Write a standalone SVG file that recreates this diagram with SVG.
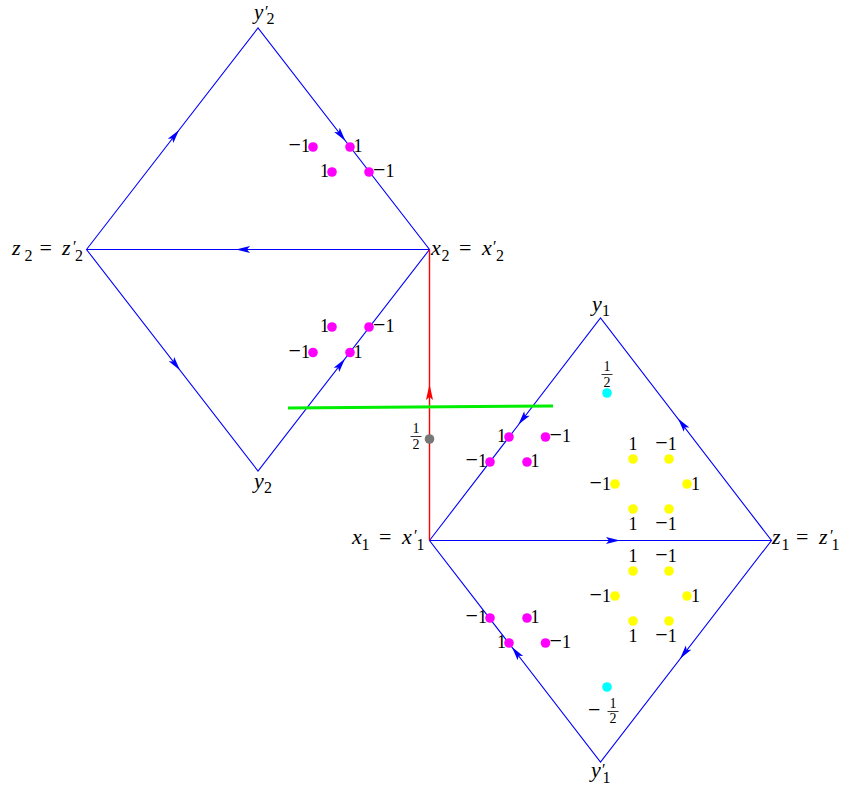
<svg xmlns="http://www.w3.org/2000/svg" width="849" height="792" viewBox="0 0 849 792">
<style>
.bg{fill:#fff}
.edge{fill:none;stroke:#0000ff;stroke-width:1.1}
.red{fill:none;stroke:#ff0000;stroke-width:1.4}
.cut{fill:none;stroke:#00ee00;stroke-width:3}
.ah{fill:#0000ff}
.rah{fill:#ff0000}
.m{font-family:"Liberation Serif",serif;font-size:22px;fill:#000}
.i{font-style:italic}
.s{font-size:16px;font-style:normal}
.p{font-size:16px;font-style:normal}
.n{font-family:"Liberation Serif",serif;font-size:18px;fill:#000}
.mn{font-size:22px}
.l{text-anchor:end}
.c{text-anchor:middle}
.f{font-family:"Liberation Serif",serif;font-size:14px;fill:#000;text-anchor:middle}
.bar{stroke:#000;stroke-width:0.8}
.mg{fill:#ff00ff}
.yl{fill:#ffff00}
.cy{fill:#00ffff}
.gr{fill:#777777}
</style>
<defs>
<path id="ahd" d="M0,0 L-14,-3.5 L-11,0 L-14,3.5 Z"/>
<path id="rahd" d="M0,0 L-16,-3.5 L-13,0 L-16,3.5 Z"/>
</defs>
<rect class="bg" x="0" y="0" width="849" height="792"/>

<g id="connectors">
  <path class="edge" d="M86.5,249.5 L258,28 L429.5,249.5 L258,471 Z M429.5,249.5 L86.5,249.5"/>
  <path class="edge" d="M429.5,540.5 L600.5,318 L771.5,540.5 L600.5,762 Z M429.5,540.5 L771.5,540.5"/>
  <path class="red" d="M429.5,249.5 L429.5,540.5"/>
  <g class="ah">
    <use href="#ahd" transform="translate(179.1,129.9) rotate(-52.25)"/>
    <use href="#ahd" transform="translate(345.5,141) rotate(52.25)"/>
    <use href="#ahd" transform="translate(236,249.5) rotate(180)"/>
    <use href="#ahd" transform="translate(180,370.2) rotate(52.25)"/>
    <use href="#ahd" transform="translate(345,358.7) rotate(-52.25)"/>
    <use href="#ahd" transform="translate(518.4,424.6) rotate(127.61)"/>
    <use href="#ahd" transform="translate(678,418.6) rotate(-127.61)"/>
    <use href="#ahd" transform="translate(620,540.5) rotate(0)"/>
    <use href="#ahd" transform="translate(680,658.8) rotate(127.61)"/>
    <use href="#ahd" transform="translate(511.9,647) rotate(-127.61)"/>
  </g>
  <use class="rah" href="#rahd" transform="translate(429.5,384) rotate(-90)"/>
</g>

<g id="cut-line">
  <path class="cut" d="M288,408 L553,406"/>
</g>

<g id="node-y2p"><text class="m" style="font-size:21px"><tspan class="i" x="254" y="19">y</tspan><tspan class="p" x="265" y="17">′</tspan><tspan class="s" x="266.5" y="24">2</tspan></text></g>
<g id="node-z2"><text class="m"><tspan class="i" x="12" y="255">z</tspan><tspan class="s" x="24.5" y="261">2</tspan><tspan x="39.5" y="255">=</tspan><tspan class="i" x="62" y="255">z</tspan><tspan class="p" x="73" y="252">′</tspan><tspan class="s" x="75" y="261">2</tspan></text></g>
<g id="node-x2"><text class="m"><tspan class="i" x="431" y="255">x</tspan><tspan class="s" x="441.5" y="261">2</tspan><tspan x="459" y="255">=</tspan><tspan class="i" x="482" y="255">x</tspan><tspan class="p" x="493" y="252">′</tspan><tspan class="s" x="496" y="261">2</tspan></text></g>
<g id="node-y2"><text class="m"><tspan class="i" x="254" y="488">y</tspan><tspan class="s" x="264" y="493">2</tspan></text></g>
<g id="node-y1"><text class="m"><tspan class="i" x="592" y="311">y</tspan><tspan class="s" x="602" y="316">1</tspan></text></g>
<g id="node-x1"><text class="m"><tspan class="i" x="352" y="544">x</tspan><tspan class="s" x="361.5" y="550">1</tspan><tspan x="379" y="544">=</tspan><tspan class="i" x="402" y="544">x</tspan><tspan class="p" x="414" y="541">′</tspan><tspan class="s" x="416.5" y="550">1</tspan></text></g>
<g id="node-z1"><text class="m"><tspan class="i" x="772" y="544">z</tspan><tspan class="s" x="781.5" y="550">1</tspan><tspan x="796" y="544">=</tspan><tspan class="i" x="819" y="544">z</tspan><tspan class="p" x="830" y="541">′</tspan><tspan class="s" x="831.5" y="550">1</tspan></text></g>
<g id="node-y1p"><text class="m"><tspan class="i" x="591" y="777">y</tspan><tspan class="p" x="602" y="775">′</tspan><tspan class="s" x="602.5" y="783">1</tspan></text></g>

<g id="dots-top">
  <circle class="mg" cx="313" cy="147" r="4.8"/><text class="n l" x="310" y="152"><tspan class="mn">−</tspan>1</text>
  <circle class="mg" cx="350" cy="147" r="4.8"/><text class="n" x="353.5" y="152">1</text>
  <circle class="mg" cx="332" cy="172" r="4.8"/><text class="n l" x="329" y="177">1</text>
  <circle class="mg" cx="369" cy="172" r="4.8"/><text class="n" x="373" y="177"><tspan class="mn">−</tspan>1</text>
  <circle class="mg" cx="332" cy="327" r="4.8"/><text class="n l" x="329" y="332">1</text>
  <circle class="mg" cx="369" cy="327" r="4.8"/><text class="n" x="373" y="332"><tspan class="mn">−</tspan>1</text>
  <circle class="mg" cx="313" cy="352.5" r="4.8"/><text class="n l" x="310" y="357.5"><tspan class="mn">−</tspan>1</text>
  <circle class="mg" cx="350" cy="352.5" r="4.8"/><text class="n" x="353.5" y="357.5">1</text>
</g>

<g id="dots-bottom-left">
  <circle class="mg" cx="509" cy="437" r="4.8"/><text class="n l" x="506" y="442">1</text>
  <circle class="mg" cx="545.5" cy="437" r="4.8"/><text class="n" x="549.5" y="442"><tspan class="mn">−</tspan>1</text>
  <circle class="mg" cx="490" cy="462" r="4.8"/><text class="n l" x="487" y="467"><tspan class="mn">−</tspan>1</text>
  <circle class="mg" cx="527" cy="462" r="4.8"/><text class="n" x="530.5" y="467">1</text>
  <circle class="mg" cx="490" cy="618" r="4.8"/><text class="n l" x="487" y="623"><tspan class="mn">−</tspan>1</text>
  <circle class="mg" cx="527" cy="618" r="4.8"/><text class="n" x="530.5" y="623">1</text>
  <circle class="mg" cx="509" cy="643" r="4.8"/><text class="n l" x="506" y="648">1</text>
  <circle class="mg" cx="545.5" cy="643" r="4.8"/><text class="n" x="549.5" y="648"><tspan class="mn">−</tspan>1</text>
</g>

<g id="dots-yellow-upper">
  <circle class="yl" cx="633" cy="459" r="4.8"/><text class="n c" x="633" y="450">1</text>
  <circle class="yl" cx="669" cy="459" r="4.8"/><text class="n c" x="666" y="450"><tspan class="mn">−</tspan>1</text>
  <circle class="yl" cx="615" cy="484" r="4.8"/><text class="n l" x="611" y="490"><tspan class="mn">−</tspan>1</text>
  <circle class="yl" cx="687" cy="484" r="4.8"/><text class="n" x="691" y="490">1</text>
  <circle class="yl" cx="633" cy="509" r="4.8"/><text class="n c" x="633" y="530">1</text>
  <circle class="yl" cx="669" cy="509" r="4.8"/><text class="n c" x="666" y="530"><tspan class="mn">−</tspan>1</text>
</g>

<g id="dots-yellow-lower">
  <circle class="yl" cx="633" cy="571" r="4.8"/><text class="n c" x="633" y="562">1</text>
  <circle class="yl" cx="669" cy="571" r="4.8"/><text class="n c" x="666" y="562"><tspan class="mn">−</tspan>1</text>
  <circle class="yl" cx="615" cy="596" r="4.8"/><text class="n l" x="611" y="602"><tspan class="mn">−</tspan>1</text>
  <circle class="yl" cx="687" cy="596" r="4.8"/><text class="n" x="691" y="602">1</text>
  <circle class="yl" cx="633" cy="621" r="4.8"/><text class="n c" x="633" y="642">1</text>
  <circle class="yl" cx="669" cy="621" r="4.8"/><text class="n c" x="666" y="642"><tspan class="mn">−</tspan>1</text>
</g>

<g id="dot-half">
  <circle class="cy" cx="607" cy="393" r="4.8"/>
  <text class="f" x="607" y="371">1</text>
  <line class="bar" x1="601.5" y1="374.5" x2="612.5" y2="374.5"/>
  <text class="f" x="607" y="387">2</text>
</g>

<g id="dot-minus-half">
  <circle class="cy" cx="607" cy="687" r="4.8"/>
  <text class="n" x="588" y="717"><tspan class="mn">−</tspan></text>
  <text class="f" x="613" y="708">1</text>
  <line class="bar" x1="607.5" y1="711.5" x2="618.5" y2="711.5"/>
  <text class="f" x="613" y="723">2</text>
</g>

<g id="dot-gray">
  <circle class="gr" cx="429.5" cy="439" r="4.8"/>
  <text class="f" x="416" y="433">1</text>
  <line class="bar" x1="410.5" y1="436.5" x2="421.5" y2="436.5"/>
  <text class="f" x="416" y="449">2</text>
</g>
</svg>
